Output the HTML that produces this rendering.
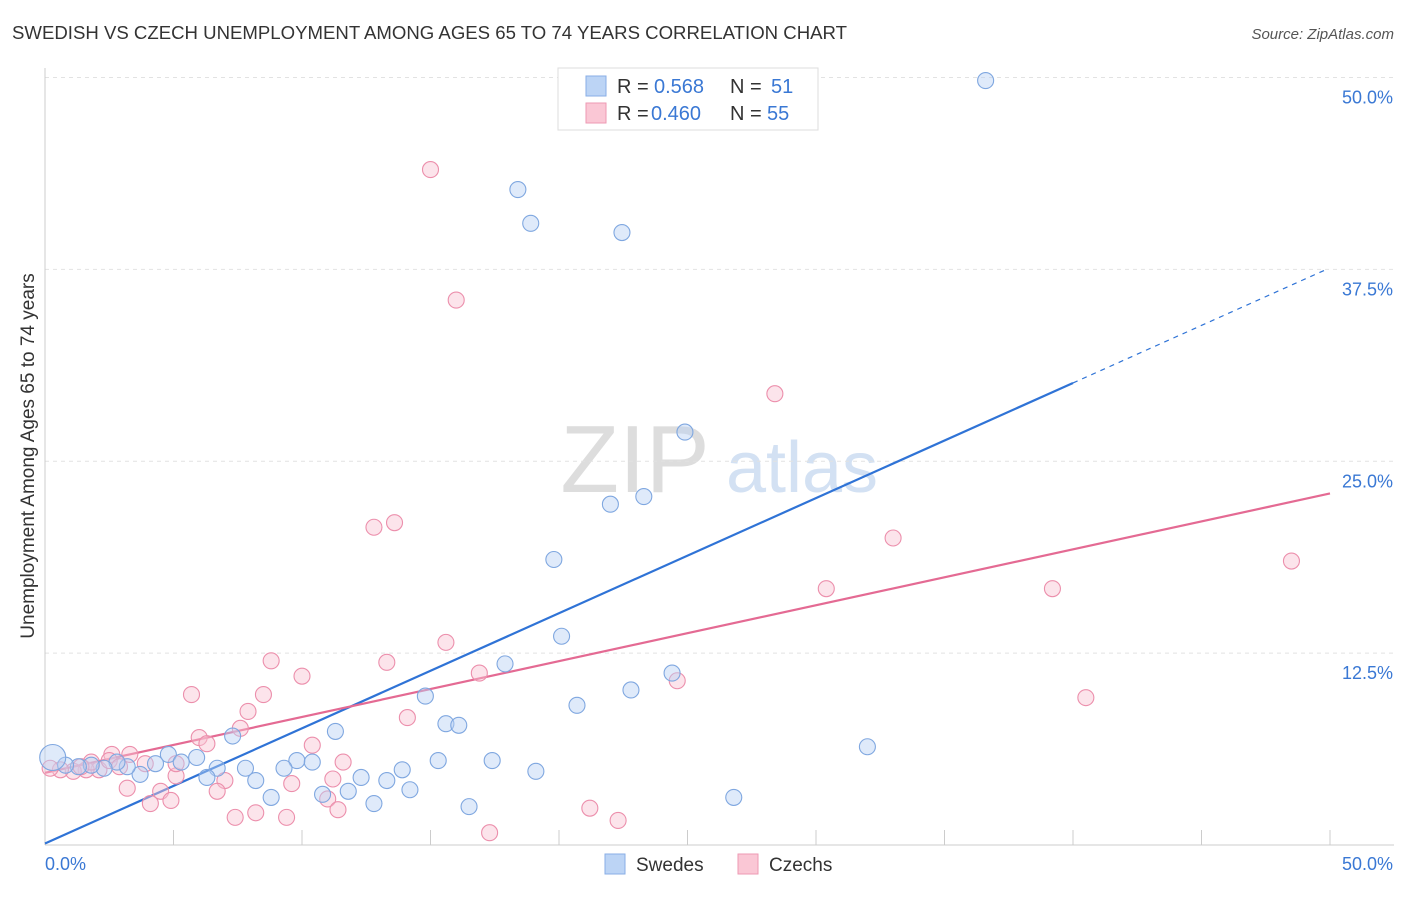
<!DOCTYPE html>
<html><head><meta charset="utf-8"><style>
body{margin:0;background:#fff;font-family:"Liberation Sans",sans-serif;}
svg text{font-family:"Liberation Sans",sans-serif;}
</style></head><body>
<svg id="chart" width="1406" height="892" xmlns="http://www.w3.org/2000/svg">
<text x="12" y="39" font-size="18" fill="#333" textLength="835" lengthAdjust="spacingAndGlyphs">SWEDISH VS CZECH UNEMPLOYMENT AMONG AGES 65 TO 74 YEARS CORRELATION CHART</text>
<text x="1394" y="39" font-size="15" fill="#555" text-anchor="end" font-style="italic">Source: ZipAtlas.com</text>
<g><text x="635" y="492" font-size="96" fill="#ddd" text-anchor="middle" font-family="Liberation Serif">ZIP</text><text x="802" y="492" font-size="72" fill="#d3e1f3" text-anchor="middle">atlas</text></g>
<g id="grid"></g><g id="axes"></g><g id="lines"></g><g id="pts"></g>
<text transform="translate(34,456) rotate(-90)" font-size="19" fill="#333" text-anchor="middle">Unemployment Among Ages 65 to 74 years</text>
<g>
<rect x="558" y="68" width="260" height="62" fill="#fff" stroke="#ddd"/>
<rect x="586" y="76" width="20" height="20" fill="#bcd4f5" stroke="#88aee6"/>
<text x="617" y="93" font-size="20" fill="#333">R =</text><text x="654" y="93" font-size="20" fill="#3a78d4">0.568</text>
<text x="730" y="93" font-size="20" fill="#333">N =</text><text x="771" y="93" font-size="20" fill="#3a78d4">51</text>
<rect x="586" y="103" width="20" height="20" fill="#fac7d5" stroke="#ee9ab3"/>
<text x="617" y="120" font-size="20" fill="#333">R =</text><text x="651" y="120" font-size="20" fill="#3a78d4">0.460</text>
<text x="730" y="120" font-size="20" fill="#333">N =</text><text x="767" y="120" font-size="20" fill="#3a78d4">55</text>
</g>
<g>
<rect x="605" y="854" width="20" height="20" fill="#bcd4f5" stroke="#88aee6"/><text x="636" y="871" font-size="19" fill="#333">Swedes</text>
<rect x="738" y="854" width="20" height="20" fill="#fac7d5" stroke="#ee9ab3"/><text x="769" y="871" font-size="19" fill="#333">Czechs</text>
</g>
</svg>
<script>
const yTicks=[12.5,25,37.5,50];
const yTickLabels=["12.5%","25.0%","37.5%","50.0%"];
const swedesX=[36.6,18.4,18.9,22.45,24.9,22.0,23.3,19.8,20.1,17.9,24.4,22.8,20.7,14.8,11.3,15.6,16.1,7.3,32.0,15.3,17.4,19.1,13.9,12.3,13.3,14.2,11.8,10.8,12.8,16.5,26.8,8.8,9.8,10.4,9.3,7.8,8.2,6.7,6.3,5.9,4.8,5.3,4.3,3.7,3.2,2.8,2.3,1.8,1.3,0.8,0.3];
const swedesY=[49.8,42.7,40.5,39.9,26.9,22.2,22.7,18.6,13.6,11.8,11.2,10.1,9.1,9.7,7.4,7.9,7.8,7.1,6.4,5.5,5.5,4.8,4.9,4.4,4.2,3.6,3.5,3.3,2.7,2.5,3.1,3.1,5.5,5.4,5.0,5.0,4.2,5.0,4.4,5.7,5.9,5.4,5.3,4.6,5.1,5.4,5.0,5.2,5.1,5.2,5.7];
const czechsX=[15.0,16.0,28.4,13.6,12.8,33.0,48.5,30.4,39.2,15.6,8.8,13.3,10.0,16.9,24.6,5.7,8.5,40.5,7.9,14.1,7.6,10.4,6.0,6.3,11.6,3.3,2.6,3.9,5.1,7.0,5.1,11.2,9.6,3.2,4.5,4.9,6.7,4.1,11.0,11.4,7.4,9.4,8.2,21.2,22.3,17.3,2.1,1.6,1.1,0.6,0.2,2.5,1.8,2.9,1.4];
const czechsY=[44.0,35.5,29.4,21.0,20.7,20.0,18.5,16.7,16.7,13.2,12.0,11.9,11.0,11.2,10.7,9.8,9.8,9.6,8.7,8.3,7.6,6.5,7.0,6.6,5.4,5.9,5.9,5.3,4.5,4.2,5.3,4.3,4.0,3.7,3.5,2.9,3.5,2.7,3.0,2.3,1.8,1.8,2.1,2.4,1.6,0.8,4.9,4.9,4.8,4.9,5.0,5.5,5.4,5.1,5.1];
const swedesFit=[0.1,30.1]; // value at x=0 and x=40
const czechsFit=[4.7,22.9]; // value at x=0 and x=50
const X=v=>45+v*25.7, Y=v=>845-v*15.35;
const NS="http://www.w3.org/2000/svg";
function mk(p,t,a){const e=document.createElementNS(NS,t);for(const k in a)e.setAttribute(k,a[k]);p.appendChild(e);return e;}
const grid=document.getElementById('grid'),axes=document.getElementById('axes'),lines=document.getElementById('lines'),pts=document.getElementById('pts');
yTicks.forEach((t,i)=>{const l=mk(grid,'line',{x1:45,x2:1394,y1:Y(t),y2:Y(t),stroke:'#e2e2e2','stroke-dasharray':'4,4'});


const tx=mk(axes,'text',{x:1393,y:Y(t)+26,'font-size':18,fill:'#3a78d4','text-anchor':'end'});tx.textContent=yTickLabels[i];

});
mk(axes,'line',{x1:45,x2:45,y1:68,y2:845,stroke:'#ccc'});
mk(axes,'line',{x1:45,x2:1394,y1:845,y2:845,stroke:'#ccc'});
for(let i=0;i<=10;i++){const t=mk(axes,'line',{x1:X(i*5),x2:X(i*5),y1:830,y2:845,stroke:'#ccc'});

}
const xl0=mk(axes,'text',{x:45,y:870,'font-size':18,fill:'#3a78d4'});xl0.textContent='0.0%';


const xl1=mk(axes,'text',{x:1393,y:870,'font-size':18,fill:'#3a78d4','text-anchor':'end'});xl1.textContent='50.0%';


function drawPts(xs,ys,fill,stroke,name){xs.forEach((x,i)=>{const c=mk(pts,'circle',{cx:X(x),cy:Y(ys[i]),r:(i==xs.length-1&&name=='swede-point')?13:8,fill:fill,'fill-opacity':0.45,stroke:stroke,'stroke-width':1.1});

});}
drawPts(czechsX,czechsY,'#f9c3d3','#ec8fac','czech-point');
drawPts(swedesX,swedesY,'#b9d1f3','#7fa7e0','swede-point');
const sl=(x)=>swedesFit[0]+(swedesFit[1]-swedesFit[0])*x/40;
const b1=mk(lines,'line',{x1:X(0),y1:Y(sl(0)),x2:X(40),y2:Y(sl(40)),stroke:'#2f73d6','stroke-width':2.2});


const b2=mk(lines,'line',{x1:X(40),y1:Y(sl(40)),x2:X(49.8),y2:Y(sl(49.8)),stroke:'#2f73d6','stroke-width':1.2,'stroke-dasharray':'5,5'});


const p1=mk(lines,'line',{x1:X(0),y1:Y(czechsFit[0]),x2:X(50),y2:Y(czechsFit[1]),stroke:'#e46a93','stroke-width':2.2});


</script>
</body></html>
